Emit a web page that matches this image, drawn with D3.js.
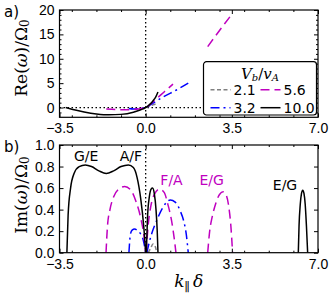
<!DOCTYPE html>
<html>
<head>
<meta charset="utf-8">
<script src="https://cdn.jsdelivr.net/npm/d3@7"></script>
<style>
body { margin: 0; background: #fff; }
svg { display: block; font-family: "DejaVu Sans", sans-serif; }
.tick text { font-size: 14px; fill: #000; }
.tick line { stroke: #000; }
.domain { display: none; }
</style>
</head>
<body>
<svg id="fig" width="333" height="304"></svg>
<script>
// tick values
const kTicks = [-3.5, 0, 3.5, 7];
const kMinor = [-3, -2, -1, 1, 2, 3, 4, 5, 6];
const reTicks = [0, 5, 10, 15, 20];
const reMinor = [-1, 1, 2, 3, 4, 6, 7, 8, 9, 11, 12, 13, 14, 16, 17, 18, 19];
const imTicks = [0, 0.2, 0.4, 0.6, 0.8, 1.0];

// V_b / v_A values (legend order: column by column)
const speeds = ['2.1', '3.2', '5.6', '10.0'];

// panel a: Re(w)/Omega_0 vs k delta   (null = gap)
const reK21 = [0, 0.1, 0.2, 0.3, 0.45];
const re21  = [0, 0.15, 0.35, 0.55, 0.8];
const reK32 = [-0.68, -0.5, -0.3, -0.1, 0, 0.3, 0.72, 1.25, 1.73];
const re32  = [-0.2, -0.3, -0.25, -0.1, 0, 0.9, 2.2, 3.6, 5.0];
const reK56 = [-1.6, -1.2, -0.8, -0.4, -0.1, 0, 0.37, 0.75, 1.11, null, 2.52, 3.0, 3.53];
const re56  = [-0.3, -0.4, -0.45, -0.35, -0.1, 0, 1.5, 3.2, 4.8, null, 12.5, 15.8, 19.3];
const reK10 = [-3.25, -3.0, -2.5, -2.0, -1.5, -1.0, -0.5, -0.2, 0, 0.1, 0.2, 0.3, 0.4, 0.5];
const re10  = [0, -0.35, -0.9, -1.3, -1.5, -1.4, -0.95, -0.45, 0, 0.35, 0.8, 1.4, 2.1, 3.2];

// panel b: Im(w)/Omega_0 vs k delta
const imK21 = [0.1, 0.2, 0.3, 0.4, 0.45];
const im21  = [0, 0.04, 0.08, 0.05, 0];
const imK32 = [-0.68, -0.62, -0.55, -0.45, -0.35, -0.22, -0.1, 0, null,
               0.05, 0.15, 0.25, 0.45, 0.7, 1.0, 1.2, 1.4, 1.55, 1.65, 1.73];
const im32  = [0, 0.17, 0.21, 0.22, 0.21, 0.18, 0.12, 0, null,
               0, 0.1, 0.18, 0.3, 0.42, 0.49, 0.47, 0.39, 0.29, 0.17, 0];
const imK56 = [-1.61, -1.55, -1.45, -1.3, -1.1, -0.85, -0.6, -0.4, -0.2, -0.05, 0, null,
               0.02, 0.1, 0.2, 0.35, 0.55, 0.75, 0.9, 1.05, 1.15, 1.23, null,
               2.52, 2.6, 2.7, 2.85, 3.0, 3.15, 3.28, 3.38, 3.46, 3.53];
const im56  = [0, 0.25, 0.4, 0.52, 0.59, 0.615, 0.58, 0.48, 0.32, 0.12, 0, null,
               0, 0.25, 0.42, 0.54, 0.59, 0.56, 0.45, 0.3, 0.15, 0, null,
               0, 0.2, 0.33, 0.46, 0.54, 0.565, 0.53, 0.42, 0.25, 0];
const imK10 = [-3.2, -3.15, -3.05, -2.9, -2.7, -2.45, -2.2, -1.9, -1.6, -1.3, -1.0, -0.7, -0.5, -0.35, -0.2, -0.08, 0, null,
               0.03, 0.08, 0.15, 0.22, 0.28, 0.35, 0.42, 0.47, 0.5, null,
               6.2, 6.23, 6.28, 6.33, 6.38, 6.43, 6.48, 6.53, 6.58];
const im10  = [0, 0.35, 0.6, 0.74, 0.8, 0.815, 0.8, 0.76, 0.735, 0.76, 0.8, 0.815, 0.79, 0.7, 0.5, 0.25, 0, null,
               0, 0.35, 0.52, 0.59, 0.6, 0.55, 0.4, 0.2, 0, null,
               0, 0.25, 0.45, 0.55, 0.58, 0.55, 0.45, 0.25, 0];

// mode labels in panel b
const modeText  = ['G/E', 'A/F', 'F/A', 'E/G', 'E/G'];
const modeK     = [-2.42, -0.6, 1.05, 2.68, 5.66];
const modeIm    = [0.9, 0.9, 0.675, 0.675, 0.63];
const modeSpeed = ['10.0', '10.0', '5.6', '5.6', '10.0'];

const style = {
    '2.1':  { color: '#808080', dash: '4,2.5' },
    '3.2':  { color: '#0000ff', dash: '9,4,2,4' },
    '5.6':  { color: '#bf00bf', dash: '9,5' },
    '10.0': { color: '#000000', dash: null }
};

const reSeries = { '2.1': [reK21, re21], '3.2': [reK32, re32], '5.6': [reK56, re56], '10.0': [reK10, re10] };
const imSeries = { '2.1': [imK21, im21], '3.2': [imK32, im32], '5.6': [imK56, im56], '10.0': [imK10, im10] };

const svg = d3.select('#fig');
const left = 59.5, right = 318;

const x = d3.scaleLinear().domain([-3.5, 7]).range([left, right]);

function zip(ks, vs) { return ks.map((k, i) => [k, vs[i]]); }

function panel(id, top, bottom, yDomain, yTicks, yMinor, yFmt, series) {
    const y = d3.scaleLinear().domain(yDomain).range([bottom, top]);
    const g = svg.append('g');

    g.append('clipPath').attr('id', 'clip-' + id)
        .append('rect')
        .attr('x', left).attr('y', top)
        .attr('width', right - left).attr('height', bottom - top);

    const plot = g.append('g').attr('clip-path', `url(#clip-${id})`);

    // dotted guide at k = 0
    plot.append('line')
        .attr('x1', x(0)).attr('x2', x(0))
        .attr('y1', top).attr('y2', bottom)
        .attr('stroke', '#000').attr('stroke-width', 1.3)
        .attr('stroke-dasharray', '1.5,2.5');

    const line = d3.line()
        .defined(d => d[0] !== null)
        .x(d => x(d[0])).y(d => y(d[1]))
        .curve(d3.curveMonotoneX);

    speeds.forEach(s => {
        plot.append('path')
            .datum(zip(series[s][0], series[s][1]))
            .attr('d', line)
            .attr('fill', 'none')
            .attr('stroke', style[s].color)
            .attr('stroke-width', 1.5)
            .attr('stroke-dasharray', style[s].dash);
    });

    // ticks, pointing inward
    const axes = [
        [d3.axisBottom(x).tickValues(kTicks).tickSize(-4).tickPadding(6).tickFormat(d3.format('.1f')), 0, bottom],
        [d3.axisBottom(x).tickValues(kMinor).tickSize(-2).tickFormat(''), 0, bottom],
        [d3.axisTop(x).tickValues(kTicks).tickSize(-4).tickFormat(''), 0, top],
        [d3.axisTop(x).tickValues(kMinor).tickSize(-2).tickFormat(''), 0, top],
        [d3.axisLeft(y).tickValues(yTicks).tickSize(-4).tickPadding(5).tickFormat(yFmt), left, 0],
        [d3.axisRight(y).tickValues(yTicks).tickSize(-4).tickFormat(''), right, 0]
    ];
    if (yMinor) {
        axes.push([d3.axisLeft(y).tickValues(yMinor).tickSize(-2).tickFormat(''), left, 0]);
        axes.push([d3.axisRight(y).tickValues(yMinor).tickSize(-2).tickFormat(''), right, 0]);
    }
    axes.forEach(([ax, tx, ty]) => {
        g.append('g').attr('transform', `translate(${tx},${ty})`).call(ax);
    });

    g.append('rect')
        .attr('x', left).attr('y', top)
        .attr('width', right - left).attr('height', bottom - top)
        .attr('fill', 'none').attr('stroke', '#000').attr('stroke-width', 1.2);

    return { g, y, plot };
}

// panel a
const pa = panel('a', 10, 117.3, [-2, 20], reTicks, reMinor, d3.format('d'), reSeries);
pa.plot.insert('line', 'path')
    .attr('x1', left).attr('x2', right)
    .attr('y1', pa.y(0)).attr('y2', pa.y(0))
    .attr('stroke', '#000').attr('stroke-width', 1.3)
    .attr('stroke-dasharray', '1.5,2.5');

// panel b
const pb = panel('b', 145, 252.7, [0, 1.0], imTicks, null, d3.format('.1f'), imSeries);
pb.g.selectAll('text.mode')
    .data(modeText)
    .join('text')
    .attr('class', 'mode')
    .attr('x', (d, i) => x(modeK[i]))
    .attr('y', (d, i) => pb.y(modeIm[i]))
    .attr('text-anchor', 'middle')
    .attr('dominant-baseline', 'central')
    .attr('font-size', 14)
    .attr('fill', (d, i) => style[modeSpeed[i]].color)
    .text(d => d);

// legend
const lg = svg.append('g').attr('transform', 'translate(203.5,61.7)');
lg.append('rect')
    .attr('width', 113).attr('height', 53.3)
    .attr('rx', 3).attr('ry', 3)
    .attr('fill', '#fff').attr('stroke', '#000').attr('stroke-width', 1.2);
const lt = lg.append('text')
    .attr('x', 56.5).attr('y', 12.5)
    .attr('text-anchor', 'middle').attr('dominant-baseline', 'central')
    .attr('font-family', 'DejaVu Serif').attr('font-size', 15).attr('font-style', 'italic');
lt.append('tspan').text('V');
lt.append('tspan').attr('font-size', 10).attr('dy', 2.5).text('b');
lt.append('tspan').attr('font-style', 'normal').attr('dy', -2.5).text('/');
lt.append('tspan').text('v');
lt.append('tspan').attr('font-size', 10).attr('dy', 2.5).text('A');

speeds.forEach((s, i) => {
    const col = Math.floor(i / 2), row = i % 2;
    const ex = 7 + col * 50, ey = 28 + row * 18;
    lg.append('line')
        .attr('x1', ex).attr('x2', ex + 20)
        .attr('y1', ey).attr('y2', ey)
        .attr('stroke', style[s].color).attr('stroke-width', 1.5)
        .attr('stroke-dasharray', style[s].dash);
    lg.append('text')
        .attr('x', ex + 23).attr('y', ey)
        .attr('dominant-baseline', 'central')
        .attr('font-size', 14)
        .text(s);
});

// axis labels
const serif = 'DejaVu Serif';
const ya = svg.append('text')
    .attr('transform', 'translate(21,58) rotate(-90)')
    .attr('text-anchor', 'middle').attr('dominant-baseline', 'central')
    .attr('font-family', serif).attr('font-size', 17);
ya.append('tspan').text('Re(');
ya.append('tspan').attr('font-style', 'italic').text('ω');
ya.append('tspan').text(')/Ω');
ya.append('tspan').attr('font-size', 12).attr('dy', 4).text('0');

const yb = svg.append('text')
    .attr('transform', 'translate(21,195) rotate(-90)')
    .attr('text-anchor', 'middle').attr('dominant-baseline', 'central')
    .attr('font-family', serif).attr('font-size', 17);
yb.append('tspan').text('Im(');
yb.append('tspan').attr('font-style', 'italic').text('ω');
yb.append('tspan').text(')/Ω');
yb.append('tspan').attr('font-size', 12).attr('dy', 4).text('0');

const xl = svg.append('text')
    .attr('x', (left + right) / 2).attr('y', 287)
    .attr('text-anchor', 'middle')
    .attr('font-family', serif).attr('font-size', 17).attr('font-style', 'italic');
xl.append('tspan').text('k');
xl.append('tspan').attr('font-size', 12).attr('font-style', 'normal').attr('dy', 4).text('∥');
xl.append('tspan').attr('dy', -4).attr('dx', 3).text('δ');

// panel letters
svg.append('text').attr('x', 4).attr('y', 17).attr('font-size', 15).text('a)');
svg.append('text').attr('x', 4).attr('y', 152).attr('font-size', 15).text('b)');
</script>
</body>
</html>
